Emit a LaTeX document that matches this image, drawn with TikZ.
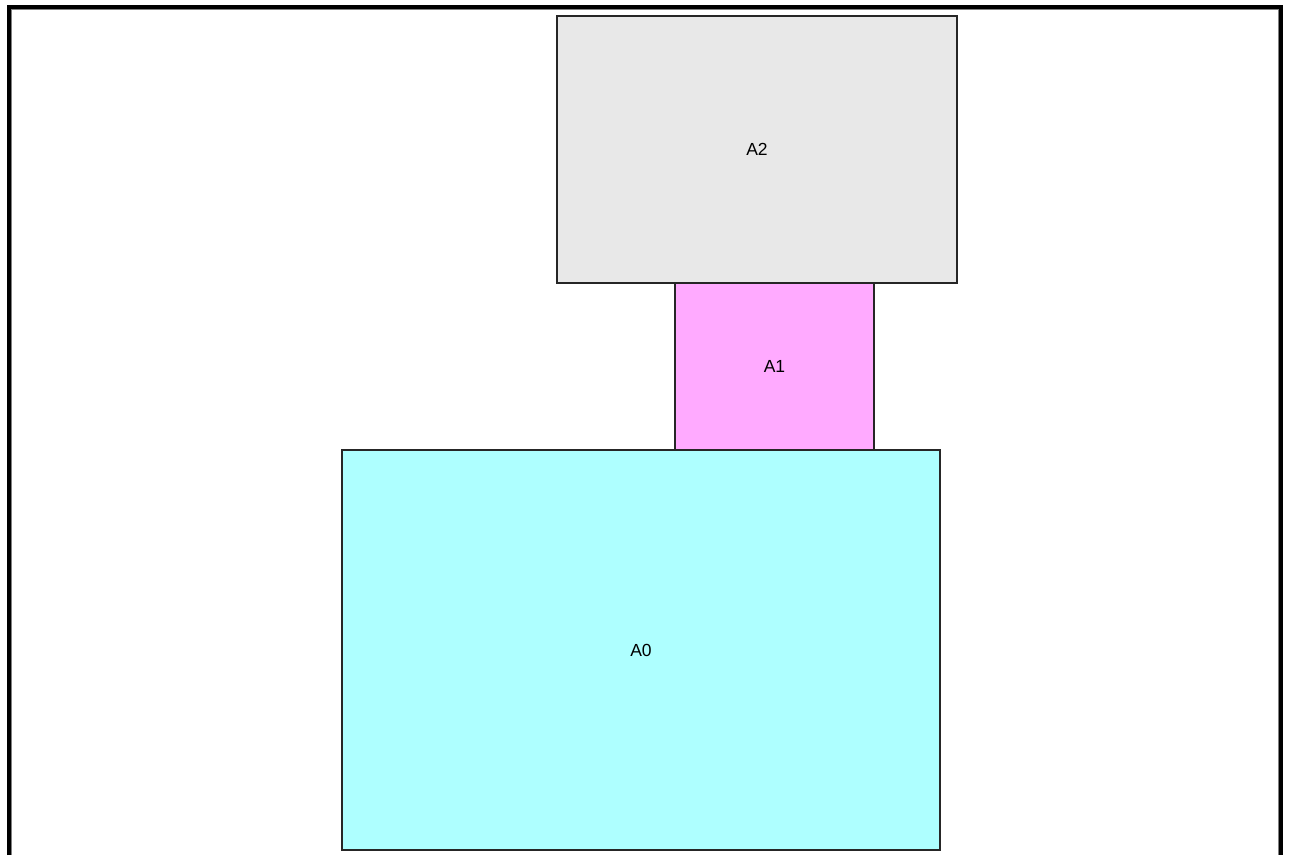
\documentclass[tikz,border=0pt]{standalone}
\usepackage{fontspec}
\setmainfont{Liberation Sans}
\usepackage{tikz}
\definecolor{boxgray}{HTML}{E8E8E8}
\definecolor{boxpink}{HTML}{FFAAFF}
\definecolor{boxcyan}{HTML}{AEFFFF}
\begin{document}
\begin{tikzpicture}[x=1pt,y=-1pt,
  areabox/.style n args={3}{rectangle, draw=black!85, line width=1.5pt, fill=#1, minimum width=#2, minimum height=#3, inner sep=0pt, outer sep=0pt, anchor=center, font=\fontsize{17.5}{20}\selectfont}]
\useasboundingbox (0,0) rectangle (1289,855);
\fill[white] (0,0) rectangle (1289,855);
% frame
\draw[line width=4pt] (9,855) -- (9,7) -- (1280.5,7) -- (1280.5,855);
\draw[gray, line width=1pt] (11.5,855) -- (11.5,9.5) -- (1278,9.5) -- (1278,855);
\node[areabox={boxgray}{400pt}{267pt}] at (757,149.5)(a2) {A2};
\node[areabox={boxpink}{199pt}{167pt}] at (774.5,366.5)(a1) {A1};
\node[areabox={boxcyan}{598pt}{400pt}] at (641,650)(a0) {A0};
\end{tikzpicture}
\end{document}
